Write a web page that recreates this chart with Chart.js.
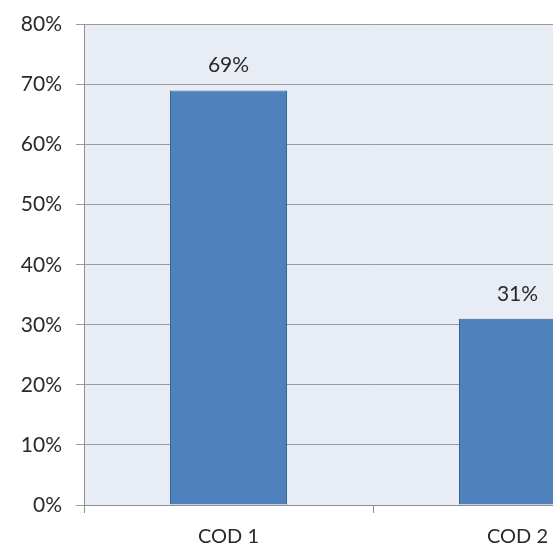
<!DOCTYPE html>
<html>
<head>
<meta charset="utf-8">
<script src="https://cdn.jsdelivr.net/npm/chart.js@4/dist/chart.umd.min.js"></script>
<style>
  html, body { margin: 0; padding: 0; background: #ffffff; }
  #wrap { width: 553px; height: 552px; overflow: hidden; position: relative; }
  #box { width: 670px; height: 552px; position: absolute; left: 0; top: 0; }
</style>
</head>
<body>
<div id="wrap"><div id="box"><canvas id="c"></canvas></div></div>
<script>
const categories = ['COD 1', 'COD 2'];
const shares = [69, 31];
const yTicks = [0, 10, 20, 30, 40, 50, 60, 70, 80];

const FONT = "Lato, 'Open Sans', 'Liberation Sans', sans-serif";

// Light plot-area fill behind the grid
const plotBackground = {
  id: 'plotBackground',
  beforeDraw(chart) {
    const { ctx, chartArea: a } = chart;
    ctx.save();
    ctx.fillStyle = '#E8ECF4';
    ctx.fillRect(a.left, a.top, a.right - a.left, a.bottom - a.top);
    ctx.restore();
  }
};

// Percentage labels above each bar
const valueLabels = {
  id: 'valueLabels',
  afterDatasetsDraw(chart) {
    const { ctx } = chart;
    const meta = chart.getDatasetMeta(0);
    ctx.save();
    ctx.font = '21px ' + FONT;
    ctx.fillStyle = '#2A2A2A';
    ctx.textAlign = 'center';
    ctx.textBaseline = 'middle';
    meta.data.forEach((bar, i) => {
      ctx.fillText(shares[i] + '%', bar.x, bar.y - 25);
    });
    ctx.restore();
  }
};

new Chart(document.getElementById('c'), {
  type: 'bar',
  data: {
    labels: categories,
    datasets: [{
      data: shares,
      backgroundColor: '#4F81BD',
      borderColor: '#3A6394',
      borderWidth: 1,
      categoryPercentage: 1,
      barPercentage: 0.405
    }]
  },
  options: {
    responsive: true,
    maintainAspectRatio: false,
    animation: false,
    layout: { padding: { top: 24, right: 8, left: 0, bottom: 0 } },
    plugins: { legend: { display: false }, tooltip: { enabled: false } },
    scales: {
      x: {
        offset: true,
        grid: { offset: true, drawOnChartArea: false, drawTicks: true, tickLength: 8, color: '#8F8F8F' },
        border: { color: '#8F8F8F', width: 1 },
        ticks: { color: '#2A2A2A', font: { family: FONT, size: 20 }, padding: 12 },
        afterFit(s) { s.height = 47; }
      },
      y: {
        min: 0,
        max: 80,
        afterBuildTicks(s) { s.ticks = yTicks.map(v => ({ value: v })); },
        grid: { color: '#999999', tickLength: 8 },
        border: { color: '#8F8F8F', width: 1 },
        ticks: {
          color: '#2A2A2A',
          font: { family: FONT, size: 21, lineHeight: 1 },
          padding: 14,
          callback: v => v + '%'
        },
        afterFit(s) { s.width = 84; }
      }
    }
  },
  plugins: [plotBackground, valueLabels]
});
</script>
</body>
</html>
